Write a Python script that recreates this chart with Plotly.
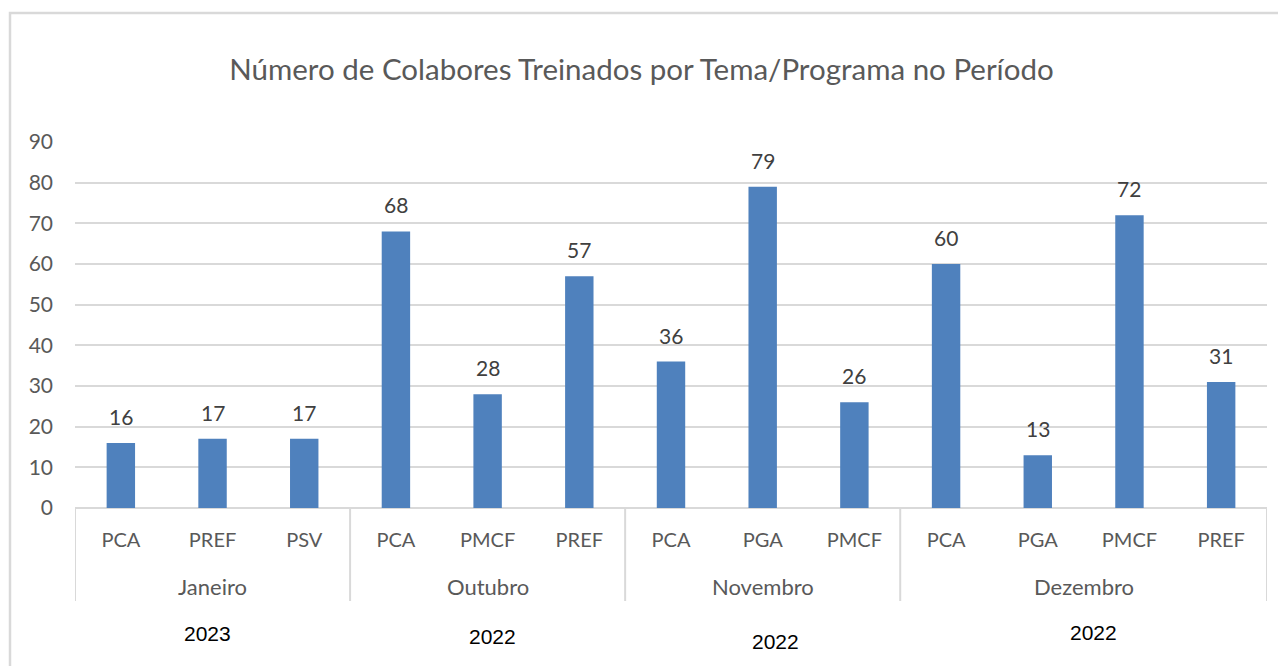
import plotly.graph_objects as go

months = ["Janeiro", "Outubro", "Novembro", "Dezembro"]
years = ["2023", "2022", "2022", "2022"]
programs = [
    ["PCA", "PREF", "PSV"],
    ["PCA", "PMCF", "PREF"],
    ["PCA", "PGA", "PMCF"],
    ["PCA", "PGA", "PMCF", "PREF"],
]
values = [
    [16, 17, 17],
    [68, 28, 57],
    [36, 79, 26],
    [60, 13, 72, 31],
]
title = "Número de Colabores Treinados por Tema/Programa no Período"

# flatten
labels, vals, xs = [], [], []
group_bounds = []
i = 0
for g, (progs, vv) in enumerate(zip(programs, values)):
    start = i
    for p, v in zip(progs, vv):
        labels.append(p)
        vals.append(v)
        xs.append(i)
        i += 1
    group_bounds.append((start, i - 1))

OFF = 8  # page body margin
W, H = 1286 - OFF, 666 - OFF
L, R, T, B = 75 - OFF, 1267 - OFF, 142 - OFF, 508 - OFF
pw, ph = R - L, B - T

def px_x(px):
    return (px - OFF - L) / pw

def px_y(py):
    return (B - (py - OFF)) / ph

GRID = "#d9d9d9"
TXT = "#595959"
FONT = "Lato, 'Open Sans', sans-serif"

fig = go.Figure()
fig.add_trace(go.Bar(
    x=xs, y=vals, marker_color="#4f81bd", marker_line_width=0,
    width=0.31, hoverinfo="skip",
))

annotations = []
for x, v in zip(xs, vals):
    annotations.append(dict(x=x, y=v, xref="x", yref="y", text=str(v),
                            showarrow=False, xanchor="center", yanchor="bottom", yshift=12,
                            font=dict(family=FONT, size=21, color="#404040")))

shapes = []
for gi, (s, e) in enumerate(group_bounds):
    cx = (s + e) / 2
    annotations.append(dict(x=cx, y=px_y(586), xref="x", yref="paper",
                            text=months[gi], showarrow=False,
                            xanchor="center", yanchor="middle",
                            font=dict(family=FONT, size=22, color=TXT)))
    shapes.append(dict(type="line", xref="x", yref="paper",
                       x0=s - 0.5, x1=s - 0.5, y0=0, y1=px_y(601),
                       line=dict(color=GRID, width=2)))
shapes.append(dict(type="line", xref="x", yref="paper",
                   x0=group_bounds[-1][1] + 0.5, x1=group_bounds[-1][1] + 0.5,
                   y0=0, y1=px_y(601), line=dict(color=GRID, width=2)))

year_pos = [(207, 633), (492, 636), (775, 641), (1093, 632)]
for yr, (ax, ay) in zip(years, year_pos):
    annotations.append(dict(x=px_x(ax), y=px_y(ay), xref="paper", yref="paper",
                            text=yr, showarrow=False, xanchor="center", yanchor="middle",
                            font=dict(family="Liberation Sans, Arial", size=21, color="#000000")))

# outer chart border (left and top)
shapes.append(dict(type="path", xref="paper", yref="paper",
                   path=f"M {px_x(10)} {px_y(700)} L {px_x(10)} {px_y(13)} L {px_x(1300)} {px_y(13)}",
                   line=dict(color=GRID, width=2.5)))

fig.update_layout(
    width=W, height=H,
    margin=dict(l=L, r=W - R, t=T, b=H - B),
    paper_bgcolor="white", plot_bgcolor="white",
    showlegend=False,
    title=dict(text=title, x=((226 + 1057) / 2 - OFF) / W, xanchor="center",
               y=1 - (70 - OFF) / H, yanchor="middle",
               font=dict(family=FONT, size=29.5, color=TXT)),
    annotations=annotations,
    shapes=shapes,
    xaxis=dict(range=[-0.5, len(xs) - 0.5], tickvals=xs, ticktext=labels,
               showgrid=False, zeroline=False, showline=False, ticks="",
               ticklabelstandoff=18,
               tickfont=dict(family=FONT, size=20, color=TXT)),
    yaxis=dict(range=[0, 90], dtick=10, showgrid=True, gridcolor=GRID,
               gridwidth=2, zeroline=True, zerolinecolor=GRID, zerolinewidth=2,
               showline=False, ticks="", ticklabelstandoff=21,
               tickfont=dict(family=FONT, size=21, color=TXT)),
)

fig.write_html("out.html")
